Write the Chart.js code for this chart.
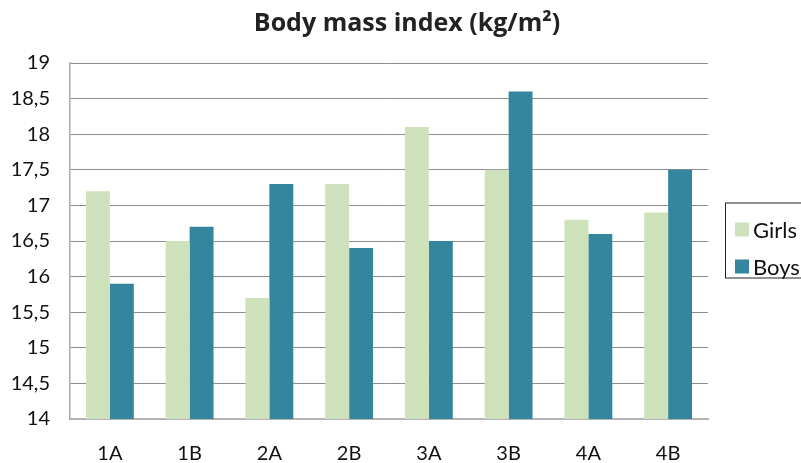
<!DOCTYPE html>
<html>
<head>
<meta charset="utf-8">
<script src="https://cdn.jsdelivr.net/npm/chart.js@4.4.1/dist/chart.umd.min.js"></script>
<style>
  body { margin: 0; background: #fff; }
  #wrap { width: 801px; height: 463px; position: relative; }
</style>
</head>
<body>
<div id="wrap"><canvas id="bmiChart"></canvas></div>
<script>
// chart data
const classes = ['1A', '1B', '2A', '2B', '3A', '3B', '4A', '4B'];
const girls = [17.2, 16.5, 15.7, 17.3, 18.1, 17.5, 16.8, 16.9];
const boys = [15.9, 16.7, 17.3, 16.4, 16.5, 18.6, 16.6, 17.5];
const chartTitle = 'Body mass index (kg/m²)';

const FONT = 'Lato, "Open Sans", sans-serif';

// title centred over the whole picture, boxed legend on the right
const decorations = {
    id: 'decorations',
    afterDraw(chart) {
        const ctx = chart.ctx;
        const area = chart.chartArea;

        ctx.save();
        ctx.fillStyle = '#222';
        ctx.font = 'bold 25px "Open Sans", sans-serif';
        ctx.textAlign = 'center';
        ctx.textBaseline = 'middle';
        ctx.fillText(chartTitle, 407, 24);

        const left = area.right + 17;
        const h = 75;
        const top = (area.top + area.bottom) / 2 - h / 2 - 1;
        ctx.strokeStyle = '#222';
        ctx.lineWidth = 1;
        ctx.strokeRect(left + 0.5, top + 0.5, 120, h);

        ctx.font = '22px ' + FONT;
        ctx.textAlign = 'left';
        chart.data.datasets.forEach((ds, i) => {
            const cy = top + 20 + i * 37 + 7;
            ctx.fillStyle = ds.backgroundColor;
            ctx.fillRect(left + 10, cy - 7, 14, 14);
            ctx.fillStyle = '#111';
            ctx.fillText(ds.label, left + 28, cy + 1);
        });
        ctx.restore();
    }
};

const ctx = document.getElementById('bmiChart').getContext('2d');

new Chart(ctx, {
    type: 'bar',
    data: {
        labels: classes,
        datasets: [
            {
                label: 'Girls',
                data: girls,
                backgroundColor: '#CDE2BA',
                categoryPercentage: 0.6,
                barPercentage: 1.0
            },
            {
                label: 'Boys',
                data: boys,
                backgroundColor: '#33869E',
                categoryPercentage: 0.6,
                barPercentage: 1.0
            }
        ]
    },
    options: {
        responsive: true,
        maintainAspectRatio: false,
        animation: false,
        layout: {
            padding: { left: 0, right: 93, top: 63, bottom: 0 }
        },
        scales: {
            x: {
                grid: { display: false, drawTicks: false },
                border: { display: true, color: '#b4b4b4', width: 2 },
                ticks: {
                    color: '#111',
                    font: { family: FONT, size: 20 },
                    padding: 23
                },
                afterFit(scale) { scale.height = 44; }
            },
            y: {
                min: 14,
                max: 19,
                grid: { color: '#8c8c8c', lineWidth: 1, drawTicks: false },
                border: { display: true, color: '#a8a8a8', width: 1.5 },
                ticks: {
                    stepSize: 0.5,
                    color: '#111',
                    font: { family: FONT, size: 20 },
                    padding: 20,
                    callback: v => String(v).replace('.', ',')
                },
                afterFit(scale) { scale.width = 70; }
            }
        },
        plugins: {
            legend: { display: false },
            tooltip: { enabled: false },
            title: { display: false }
        }
    },
    plugins: [decorations]
});
</script>
</body>
</html>
